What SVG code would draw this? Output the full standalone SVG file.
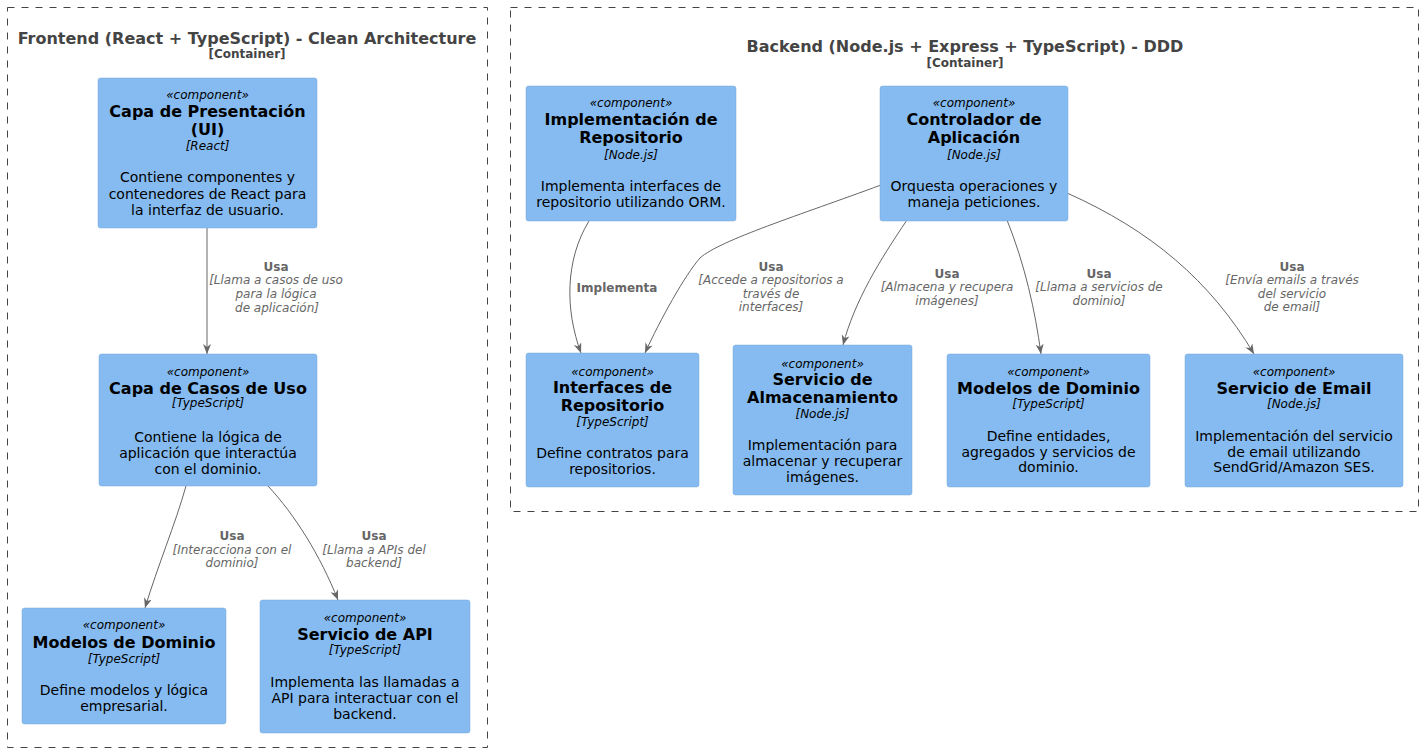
<svg xmlns="http://www.w3.org/2000/svg" width="1424" height="753" viewBox="0 0 1424 753">
<defs>
<style>
text{font-family:"DejaVu Sans","Liberation Sans",sans-serif;text-anchor:middle}
.bnd{fill:none;stroke:#444444;stroke-width:1;stroke-dasharray:7,7}
.bt{font-size:16px;font-weight:bold;fill:#444444}
.bs{font-size:12px;font-weight:bold;fill:#444444}
.node rect{fill:#85BBF0;stroke:#78A8D8;stroke-width:0.5}
.st{font-size:12px;font-style:italic;fill:#000}
.nm{font-size:16px;font-weight:bold;fill:#000}
.te{font-size:12px;font-style:italic;fill:#000}
.de{font-size:14px;fill:#000}
.edge{fill:none;stroke:#666666;stroke-width:1}
.lb{font-size:12px;font-weight:bold;fill:#666666}
.li{font-size:12px;font-style:italic;fill:#666666}
</style>
<marker id="ah" markerUnits="userSpaceOnUse" markerWidth="12" markerHeight="10" refX="10" refY="4" orient="auto">
<path d="M0,0 L10,4 L0,8 L3,4 z" fill="#666666"/>
</marker>
</defs>
<rect width="1424" height="753" fill="#FFFFFF"/>

<g id="frontend">
<rect class="bnd" x="7.5" y="7.5" width="480" height="740"/>
<text class="bt" x="247" y="44">Frontend (React + TypeScript) - Clean Architecture</text>
<text class="bs" x="247" y="58">[Container]</text>
</g>

<g id="backend">
<rect class="bnd" x="510.5" y="7.5" width="908" height="504"/>
<text class="bt" x="965" y="52">Backend (Node.js + Express + TypeScript) - DDD</text>
<text class="bs" x="965" y="67">[Container]</text>
</g>

<g id="edges">
<path class="edge" marker-end="url(#ah)" d="M207,228 L207,354"/>
<path class="edge" marker-end="url(#ah)" d="M186,486 C175,525 158,565 145,608"/>
<path class="edge" marker-end="url(#ah)" d="M268,486 C295,515 320,555 338,600"/>
<path class="edge" marker-end="url(#ah)" d="M589,221 C565,260 565,310 581,353"/>
<path class="edge" marker-end="url(#ah)" d="M881,185 C800,215 720,240 700,258 C685,275 660,320 645,353"/>
<path class="edge" marker-end="url(#ah)" d="M907,220 C880,260 855,300 843,345"/>
<path class="edge" marker-end="url(#ah)" d="M1007,220 C1025,265 1035,310 1041,354"/>
<path class="edge" marker-end="url(#ah)" d="M1067,193 C1150,230 1210,280 1254,354"/>

<text class="lb" x="276" y="271">Usa</text>
<text class="li" x="276" y="284">[Llama a casos de uso</text>
<text class="li" x="276" y="298">para la lógica</text>
<text class="li" x="277" y="312">de aplicación]</text>

<text class="lb" x="232" y="540">Usa</text>
<text class="li" x="232" y="554">[Interacciona con el</text>
<text class="li" x="232" y="567">dominio]</text>

<text class="lb" x="374" y="540">Usa</text>
<text class="li" x="374" y="554">[Llama a APIs del</text>
<text class="li" x="374" y="567">backend]</text>

<text class="lb" x="617" y="292">Implementa</text>

<text class="lb" x="771" y="271">Usa</text>
<text class="li" x="771" y="284">[Accede a repositorios a</text>
<text class="li" x="771" y="298">través de</text>
<text class="li" x="771" y="311">interfaces]</text>

<text class="lb" x="947" y="278">Usa</text>
<text class="li" x="947" y="291">[Almacena y recupera</text>
<text class="li" x="947" y="305">imágenes]</text>

<text class="lb" x="1099" y="278">Usa</text>
<text class="li" x="1099" y="291">[Llama a servicios de</text>
<text class="li" x="1099" y="305">dominio]</text>

<text class="lb" x="1292" y="271">Usa</text>
<text class="li" x="1292" y="284">[Envía emails a través</text>
<text class="li" x="1292" y="298">del servicio</text>
<text class="li" x="1292" y="311">de email]</text>
</g>

<g id="presentacion" class="node">
<rect x="98" y="78" width="219" height="150" rx="2.5"/>
<text class="st" x="207.5" y="99">«component»</text>
<text class="nm" x="207.5" y="117">Capa de Presentación</text>
<text class="nm" x="207.5" y="135">(UI)</text>
<text class="te" x="207.5" y="150">[React]</text>
<text class="de" x="207.5" y="182">Contiene componentes y</text>
<text class="de" x="207.5" y="199">contenedores de React para</text>
<text class="de" x="207.5" y="215">la interfaz de usuario.</text>
</g>

<g id="casosdeuso" class="node">
<rect x="99" y="354" width="218" height="132" rx="2.5"/>
<text class="st" x="208" y="376">«component»</text>
<text class="nm" x="208" y="394">Capa de Casos de Uso</text>
<text class="te" x="208" y="407">[TypeScript]</text>
<text class="de" x="208" y="442">Contiene la lógica de</text>
<text class="de" x="208" y="458">aplicación que interactúa</text>
<text class="de" x="208" y="474">con el dominio.</text>
</g>

<g id="modelosfe" class="node">
<rect x="22" y="608" width="204" height="116" rx="2.5"/>
<text class="st" x="124" y="629">«component»</text>
<text class="nm" x="124" y="648">Modelos de Dominio</text>
<text class="te" x="124" y="663">[TypeScript]</text>
<text class="de" x="124" y="695">Define modelos y lógica</text>
<text class="de" x="124" y="711">empresarial.</text>
</g>

<g id="servicioapi" class="node">
<rect x="260" y="600" width="210" height="133" rx="2.5"/>
<text class="st" x="365" y="622">«component»</text>
<text class="nm" x="365" y="640">Servicio de API</text>
<text class="te" x="365" y="654">[TypeScript]</text>
<text class="de" x="365" y="687">Implementa las llamadas a</text>
<text class="de" x="365" y="703">API para interactuar con el</text>
<text class="de" x="365" y="719">backend.</text>
</g>

<g id="implrepo" class="node">
<rect x="526" y="86" width="210" height="135" rx="2.5"/>
<text class="st" x="631" y="107">«component»</text>
<text class="nm" x="631" y="125">Implementación de</text>
<text class="nm" x="631" y="143">Repositorio</text>
<text class="te" x="631" y="159">[Node.js]</text>
<text class="de" x="631" y="191">Implementa interfaces de</text>
<text class="de" x="631" y="207">repositorio utilizando ORM.</text>
</g>

<g id="controlador" class="node">
<rect x="880" y="86" width="188" height="135" rx="2.5"/>
<text class="st" x="974" y="107">«component»</text>
<text class="nm" x="974" y="125">Controlador de</text>
<text class="nm" x="974" y="143">Aplicación</text>
<text class="te" x="974" y="159">[Node.js]</text>
<text class="de" x="974" y="191">Orquesta operaciones y</text>
<text class="de" x="974" y="207">maneja peticiones.</text>
</g>

<g id="interfacesrepo" class="node">
<rect x="526" y="353" width="173" height="134" rx="2.5"/>
<text class="st" x="612.5" y="376">«component»</text>
<text class="nm" x="612.5" y="393">Interfaces de</text>
<text class="nm" x="612.5" y="411">Repositorio</text>
<text class="te" x="612.5" y="426">[TypeScript]</text>
<text class="de" x="612.5" y="458">Define contratos para</text>
<text class="de" x="612.5" y="474">repositorios.</text>
</g>

<g id="almacenamiento" class="node">
<rect x="733" y="345" width="179" height="150" rx="2.5"/>
<text class="st" x="822.5" y="368">«component»</text>
<text class="nm" x="822.5" y="385">Servicio de</text>
<text class="nm" x="822.5" y="403">Almacenamiento</text>
<text class="te" x="822.5" y="418">[Node.js]</text>
<text class="de" x="822.5" y="450">Implementación para</text>
<text class="de" x="822.5" y="466">almacenar y recuperar</text>
<text class="de" x="822.5" y="482">imágenes.</text>
</g>

<g id="modelosbe" class="node">
<rect x="947" y="354" width="203" height="133" rx="2.5"/>
<text class="st" x="1048.5" y="376">«component»</text>
<text class="nm" x="1048.5" y="394">Modelos de Dominio</text>
<text class="te" x="1048.5" y="408">[TypeScript]</text>
<text class="de" x="1048.5" y="441">Define entidades,</text>
<text class="de" x="1048.5" y="457">agregados y servicios de</text>
<text class="de" x="1048.5" y="472">dominio.</text>
</g>

<g id="email" class="node">
<rect x="1185" y="354" width="218" height="133" rx="2.5"/>
<text class="st" x="1294" y="376">«component»</text>
<text class="nm" x="1294" y="394">Servicio de Email</text>
<text class="te" x="1294" y="408">[Node.js]</text>
<text class="de" x="1294" y="441">Implementación del servicio</text>
<text class="de" x="1294" y="457">de email utilizando</text>
<text class="de" x="1294" y="472">SendGrid/Amazon SES.</text>
</g>
</svg>
